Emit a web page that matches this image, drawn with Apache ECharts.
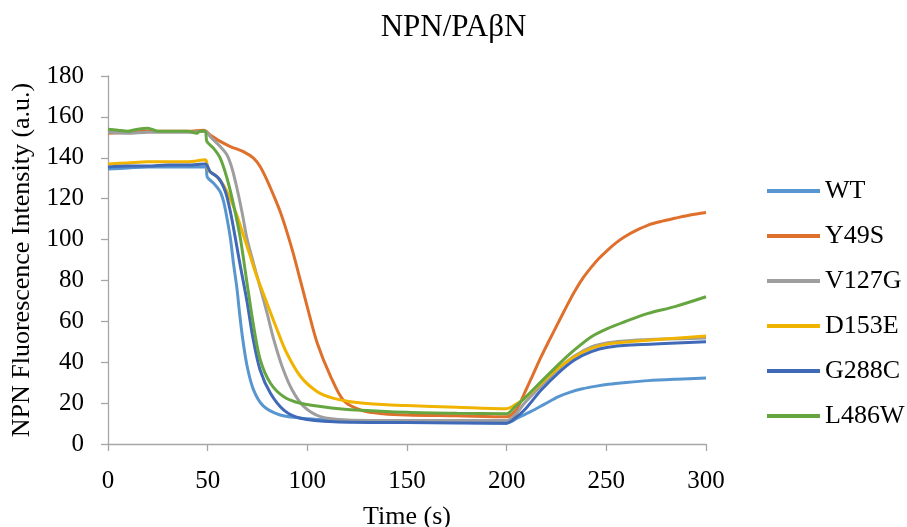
<!DOCTYPE html>
<html lang="en">
  <head>
    <meta charset="UTF-8" />
    <title>NPN/PAβN</title>
    <style>
      html,
      body {
        margin: 0;
        padding: 0;
        background: #fff;
      }
      #main {
        width: 907px;
        height: 527px;
      }
    </style>
  </head>
  <body>
    <div id="main"></div>
    <script src="https://cdn.jsdelivr.net/npm/echarts@6/dist/echarts.min.js"></script>
    <script>
      // [time (s), intensity (a.u.)]
      const seriesNames = ["WT", "Y49S", "V127G", "D153E", "G288C", "L486W"];
      const seriesColors = ["#5896CF", "#DE702C", "#9E9E9E", "#F0B300", "#4069B8", "#66A641"];

      const wt = [
        [0, 134.5], [10, 135], [20, 135.5], [30, 135.5], [40, 135.5], [49, 135.5],
        [49.8, 130.5], [53, 127.5], [56.3, 123.4], [58, 118.5], [59.7, 110.4], [61.4, 100.6],
        [63, 88], [64.7, 76], [66, 64], [67.5, 52], [69.8, 38], [73, 26.5], [78, 18.5],
        [86, 14.3], [96, 12.7], [105, 12], [120, 11.5], [150, 11], [180, 10.5], [200, 10.2],
        [206, 13], [212, 15.8], [219, 19.5], [226, 23.2], [232, 25.4], [238, 27],
        [245, 28.3], [251, 29.2], [260, 30.1], [271, 31], [285, 31.7], [300, 32.3]
      ];
      const y49s = [
        [0, 152], [10, 152.5], [20, 153], [30, 153], [40, 153], [48, 153.5], [51.3, 151.2],
        [56.3, 148], [61.4, 145.5], [67.9, 143], [73, 139.8], [76.3, 135.7], [79.7, 129.2],
        [83, 121.8], [86.4, 113.6], [89.7, 103.9], [93, 93], [96.5, 80], [100, 67],
        [105, 49.3], [111.7, 33], [118.4, 21], [128, 16.2], [138, 14.8], [150, 14.2],
        [175, 13.8], [200, 13.3], [205, 17], [208.9, 24.8], [213, 33.5], [217.3, 42.7],
        [221, 50], [225.7, 59], [230, 67.2], [234, 74.5], [238, 80.8], [242.5, 86.5],
        [246, 90.5], [250.8, 95], [255, 98.5], [259.2, 101.4], [265, 104.5], [271, 107.1],
        [278, 109], [284.4, 110.4], [292, 112], [300, 113.2]
      ];
      const v127g = [
        [0, 152.5], [10, 152], [20, 152.5], [30, 152.5], [40, 152.5], [48.8, 153],
        [51.3, 150.3], [56.3, 145.5], [59.7, 141.4], [62.2, 134.9], [64.7, 125.1],
        [67.2, 113.6], [69.7, 100.6], [73.1, 88], [76.5, 76], [79.8, 64], [83.2, 50.9],
        [87.4, 37.8], [92.4, 26.4], [98.3, 18.3], [106.6, 13.4], [120, 11.8], [150, 11.5],
        [175, 11.5], [200, 11.5], [204, 14], [209, 20], [217.3, 28.5], [225.7, 36.5],
        [234, 43], [242.5, 47.5], [250.8, 49.5], [262.6, 50.6], [279.3, 51.3], [300, 51.8]
      ];
      const d153e = [
        [0, 137], [10, 137.5], [20, 138], [30, 138], [40, 138], [48.8, 139], [50.4, 134],
        [54.6, 130.8], [57.9, 126.7], [61.2, 120.2], [64.6, 112], [67.9, 102.2], [71, 93],
        [74.3, 83], [79.3, 70], [84.4, 57], [89.4, 45], [96.6, 33], [105, 25.6],
        [113.3, 22.3], [121.7, 20.7], [138, 19.3], [150, 18.8], [175, 18], [200, 17.3],
        [204, 19], [208.9, 22.3], [217.3, 29.7], [225.7, 37], [234, 42.7], [242.5, 46.8],
        [250.8, 48.9], [262.6, 50.1], [279.3, 51.4], [300, 52.8]
      ];
      const g288c = [
        [0, 135.5], [10, 136], [20, 136], [30, 136.5], [40, 136.5], [48.8, 137],
        [51.3, 133.2], [55.5, 130], [58.9, 123.4], [61.4, 113.6], [63.9, 100.6],
        [66.2, 88], [69.6, 70.5], [72.9, 50.9], [76.3, 36.2], [81.5, 24.8], [88.2, 16.6],
        [96.6, 12.6], [113.4, 10.9], [150, 10.5], [200, 10.2], [204, 12.5], [208.9, 16.6],
        [217.3, 26.4], [225.7, 34.6], [234, 41.1], [242.5, 45.2], [250.8, 47.3],
        [262.6, 48.4], [279.3, 49.2], [300, 50]
      ];
      const l486w = [
        [0, 154], [5, 153.5], [10, 153], [15, 154], [20, 154.5], [25, 153], [30, 153],
        [40, 153], [44.6, 152], [46, 153], [48.8, 153], [49.6, 148], [53, 144.6],
        [56.3, 139.8], [59.7, 130], [63, 117], [66.4, 100.6], [69.7, 79], [73.1, 57.4],
        [76.4, 41.1], [81.5, 29.7], [88.2, 23.1], [96.6, 19.9], [113.4, 17.5],
        [121.7, 16.8], [150, 15.5], [175, 15], [200, 14.8], [204, 18], [208.9, 22.3],
        [217.3, 30.5], [225.7, 38.6], [234, 46], [242.5, 52.5], [250.8, 56.6],
        [259.2, 59.8], [271, 63.9], [284.4, 67.2], [300, 72]
      ];
      const seriesData = [wt, y49s, v127g, d153e, g288c, l486w];

      const font = "'Liberation Serif', 'Times New Roman', serif";
      const axisGrey = "#A6A6A6";

      const chart = echarts.init(document.getElementById("main"));
      const option = {
        animation: false,
        color: seriesColors,
        title: {
          text: "NPN/PAβN",
          left: "center",
          top: 12,
          padding: 0,
          textStyle: { fontFamily: font, fontSize: 31, fontWeight: "normal", color: "#000" }
        },
        legend: {
          orient: "vertical",
          left: 762,
          top: 173,
          icon: "rect",
          itemWidth: 53,
          itemHeight: 4,
          itemGap: 19,
          textStyle: { fontFamily: font, fontSize: 26, color: "#000" },
          data: seriesNames
        },
        grid: {
          left: 108,
          right: 201,
          top: 76,
          bottom: 83,
          containLabel: false,
          outerBoundsMode: "none"
        },
        xAxis: {
          type: "value",
          min: 0,
          max: 300,
          interval: 50,
          name: "Time (s)",
          nameLocation: "middle",
          nameGap: 60,
          nameTextStyle: { fontFamily: font, fontSize: 26, color: "#000" },
          axisLine: { show: true, lineStyle: { color: axisGrey, width: 1.3 } },
          axisTick: { show: true, length: 7, lineStyle: { color: axisGrey, width: 1.3 } },
          axisLabel: { fontFamily: font, fontSize: 25, color: "#000", margin: 25 },
          splitLine: { show: false }
        },
        yAxis: {
          type: "value",
          min: 0,
          max: 180,
          interval: 20,
          name: "NPN Fluorescence Intensity (a.u.)",
          nameLocation: "middle",
          nameGap: 66,
          nameTextStyle: { fontFamily: font, fontSize: 26, color: "#000" },
          axisLine: { show: true, lineStyle: { color: axisGrey, width: 1.3 } },
          axisTick: { show: true, length: 7, lineStyle: { color: axisGrey, width: 1.3 } },
          axisLabel: { fontFamily: font, fontSize: 25, color: "#000", margin: 24 },
          splitLine: { show: false }
        },
        series: seriesNames.map((name, i) => ({
          name: name,
          type: "line",
          data: seriesData[i],
          symbol: "none",
          smooth: 0.3,
          lineStyle: { width: 3, color: seriesColors[i] }
        }))
      };
      chart.setOption(option);
    </script>
  </body>
</html>
